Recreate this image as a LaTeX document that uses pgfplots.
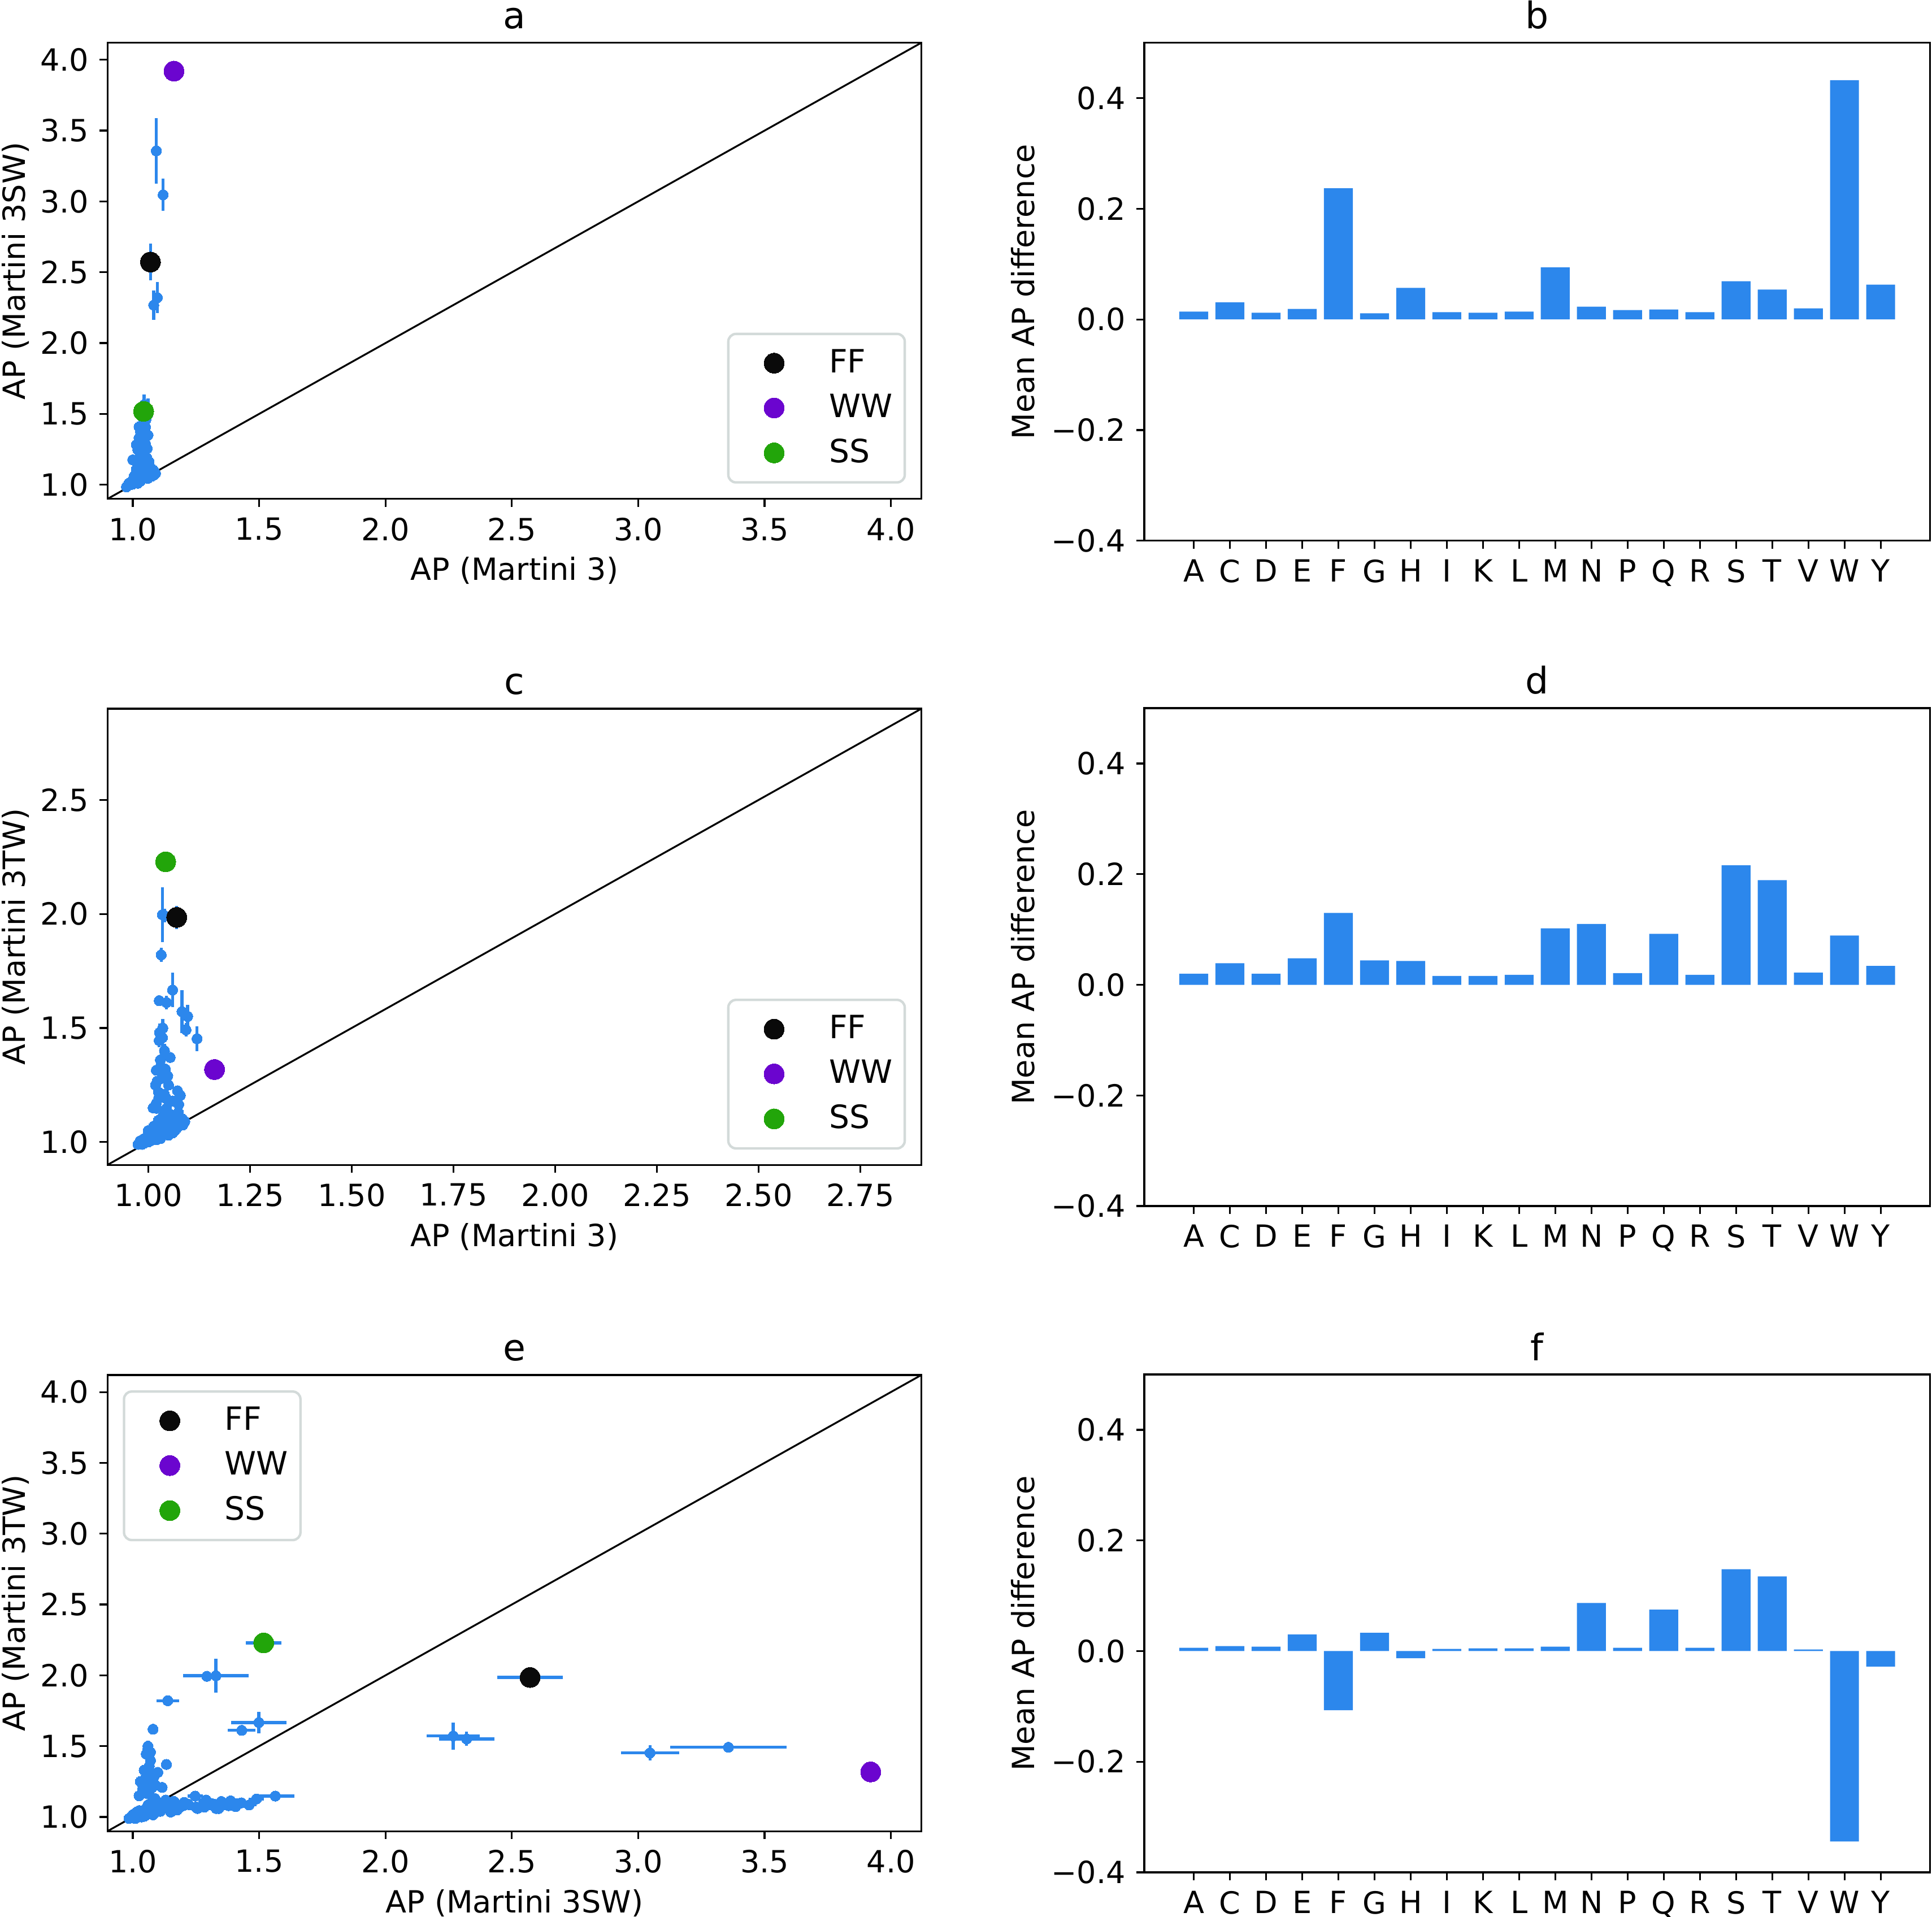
\documentclass[border=0pt]{standalone}
\usepackage{fontspec}
\setmainfont{DejaVu Sans}
\usepackage{pgfplots}
\usepackage{pgfplotstable}
\pgfplotsset{compat=1.18}

\definecolor{apblue}{HTML}{2C87EC}
\definecolor{ffblack}{HTML}{0A0A0A}
\definecolor{wwpurple}{HTML}{6B05CF}
\definecolor{ssgreen}{HTML}{22A50A}
\definecolor{leggray}{HTML}{D3DAD9}

% AP values per dipeptide: Martini 3, Martini 3SW, Martini 3TW, errors of 3SW and 3TW
\pgfplotstableread{
m3    sw    tw    esw   etw
1.163 3.920 1.318 0.030 0.020
1.070 2.572 1.985 0.130 0.050
1.043 1.518 2.229 0.070 0.020
1.093 3.357 1.492 0.230 0.030
1.120 3.047 1.453 0.115 0.055
1.083 2.268 1.572 0.105 0.095
1.097 2.321 1.551 0.110 0.050
1.060 1.499 1.667 0.109 0.075
1.045 1.431 1.612 0.055 0.030
1.035 1.329 1.997 0.130 0.120
1.040 1.293 1.993 0.020 0.030
1.032 1.138 1.821 0.045 0.030
1.027 1.080 1.620 0.020 0.020
1.035 1.070 1.458 0.020 0.070
1.027 1.053 1.445 0.020 0.030
1.054 1.133 1.371 0.020 0.020
1.020 1.099 1.315 0.020 0.020
1.040 1.116 1.209 0.020 0.020
1.026 1.039 1.193 0.010 0.020
1.022 1.048 1.267 0.010 0.020
1.042 1.058 1.320 0.010 0.020
1.072 1.090 1.225 0.010 0.020
1.079 1.075 1.205 0.010 0.020
1.075 1.060 1.165 0.010 0.010
1.045 1.564 1.148 0.075 0.010
1.040 1.489 1.127 0.030 0.010
1.050 1.407 1.074 0.070 0.010
1.038 1.387 1.114 0.040 0.010
1.030 1.276 1.082 0.050 0.010
1.020 1.247 1.148 0.030 0.010
1.048 1.203 1.103 0.030 0.010
1.025 1.408 1.095 0.020 0.010
1.014 1.283 1.070 0.020 0.010
1.043 1.323 1.090 0.050 0.010
1.057 1.256 1.060 0.040 0.010
1.036 1.200 1.080 0.030 0.010
1.000 1.176 1.050 0.020 0.010
1.064 1.163 1.110 0.020 0.010
1.074 1.088 1.130 0.020 0.010
1.014 1.109 1.040 0.010 0.010
1.060 1.350 1.110 0.060 0.010
1.052 1.460 1.085 0.030 0.010
0.975 0.985 0.990 0.010 0.010
0.985 1.000 1.000 0.010 0.010
0.990 1.010 0.995 0.010 0.010
0.995 1.020 1.010 0.010 0.010
1.000 1.005 1.020 0.010 0.010
1.005 1.030 1.015 0.010 0.010
1.010 1.040 1.030 0.010 0.010
1.015 1.025 1.045 0.010 0.010
1.020 1.060 1.025 0.010 0.010
1.025 1.070 1.060 0.010 0.010
1.030 1.045 1.050 0.010 0.010
1.035 1.090 1.070 0.010 0.010
1.040 1.065 1.085 0.010 0.010
1.045 1.100 1.040 0.010 0.010
1.050 1.080 1.060 0.010 0.010
1.055 1.070 1.095 0.010 0.010
1.060 1.110 1.070 0.010 0.010
1.065 1.095 1.050 0.010 0.010
1.070 1.120 1.080 0.010 0.010
1.075 1.100 1.090 0.010 0.010
1.080 1.085 1.100 0.010 0.010
1.085 1.070 1.075 0.010 0.010
1.010 1.015 1.035 0.010 0.010
1.000 1.035 1.000 0.010 0.010
1.020 1.010 1.010 0.010 0.010
1.030 1.025 1.030 0.010 0.010
1.045 1.055 1.045 0.010 0.010
1.015 1.075 1.065 0.010 0.010
1.028 1.150 1.035 0.020 0.010
1.055 1.130 1.120 0.020 0.010
1.005 1.060 1.040 0.010 0.010
1.065 1.140 1.100 0.020 0.010
1.018 1.030 1.250 0.010 0.020
1.030 1.065 1.360 0.010 0.020
1.048 1.085 1.290 0.010 0.020
1.012 1.025 1.150 0.010 0.010
1.060 1.045 1.180 0.010 0.020
1.036 1.060 1.500 0.010 0.040
0.980 0.995 1.005 0.010 0.010
0.985 1.010 0.990 0.010 0.010
0.990 1.000 1.015 0.010 0.010
0.995 1.015 1.000 0.010 0.010
1.000 1.020 1.030 0.010 0.010
1.005 1.045 1.005 0.010 0.010
1.010 1.025 1.020 0.010 0.010
1.015 1.050 1.010 0.010 0.010
1.020 1.035 1.040 0.010 0.010
1.025 1.020 1.025 0.010 0.010
1.030 1.080 1.015 0.010 0.010
1.035 1.050 1.035 0.010 0.010
1.040 1.090 1.055 0.010 0.010
1.045 1.075 1.065 0.010 0.010
1.050 1.060 1.030 0.010 0.010
1.055 1.095 1.050 0.010 0.010
1.060 1.075 1.040 0.010 0.010
1.065 1.060 1.085 0.010 0.010
1.070 1.085 1.060 0.010 0.010
1.075 1.075 1.070 0.010 0.010
1.080 1.105 1.080 0.010 0.010
1.085 1.095 1.100 0.010 0.010
1.090 1.080 1.090 0.010 0.010
1.020 1.180 1.060 0.020 0.010
1.030 1.220 1.090 0.030 0.010
1.040 1.250 1.070 0.030 0.010
1.035 1.300 1.100 0.030 0.010
1.045 1.340 1.060 0.040 0.010
1.030 1.380 1.080 0.030 0.010
1.050 1.290 1.120 0.030 0.010
1.040 1.430 1.100 0.040 0.010
1.055 1.190 1.080 0.020 0.010
1.025 1.330 1.060 0.030 0.010
1.035 1.160 1.110 0.020 0.010
1.025 1.040 1.220 0.010 0.020
1.035 1.055 1.280 0.010 0.020
1.030 1.045 1.330 0.010 0.020
1.040 1.070 1.400 0.010 0.030
1.020 1.050 1.170 0.010 0.010
1.050 1.080 1.250 0.010 0.020
1.045 1.065 1.190 0.010 0.010
1.028 1.060 1.480 0.010 0.040
}\apdata

% mean AP difference per residue (b: 3SW-3, d: 3TW-3, f: 3TW-3SW)
\pgfplotstableread{
x  b      d     f
0  0.014  0.020  0.006
1  0.031  0.039  0.009
2  0.012  0.020  0.008
3  0.019  0.048  0.030
4  0.237  0.130 -0.107
5  0.011  0.044  0.033
6  0.057  0.043 -0.013
7  0.013  0.016  0.004
8  0.012  0.016  0.005
9  0.014  0.018  0.005
10 0.094  0.102  0.008
11 0.023  0.110  0.087
12 0.017  0.021  0.006
13 0.018  0.092  0.075
14 0.013  0.018  0.006
15 0.069  0.216  0.148
16 0.054  0.189  0.135
17 0.020  0.022  0.003
18 0.4325 0.089 -0.344
19 0.063  0.034 -0.028
}\diffdata

\pgfplotsset{
  apbase/.style={
    scale only axis,
    axis line style={line width=0.6pt},
    tick style={line width=0.6pt, black},
    tick align=outside, major tick length=2.6pt,
    tick pos=left,
    label style={font=\fontsize{10}{12}\selectfont},
    tick label style={font=\fontsize{10}{12}\selectfont},
    title style={font=\fontsize{12}{14}\selectfont, yshift=-5pt},
    xlabel style={yshift=1.5pt},
  },
  scat/.style={
    apbase, width=266.4pt, height=149.3pt,
    ylabel shift=-3.2pt,
    legend style={draw=leggray, line width=0.8pt, rounded corners=2.5pt,
      font=\fontsize{10.5}{12.5}\selectfont, inner xsep=2pt, inner ysep=3pt,
      row sep=1.5pt, cells={anchor=west},
      at={(1,0)}, xshift=-5pt, yshift=5pt, anchor=south east},
    legend image code/.code={
      \path[draw=none] (0pt,0pt) -- (29pt,0pt);
      \draw[##1] plot coordinates {(13pt,0pt)};},
  },
  bars/.style={
    apbase, width=257.3pt, height=163pt,
    ylabel shift=-1.5pt,
    xmin=-1.37, xmax=20.37, ymin=-0.4, ymax=0.5,
    xtick={0,...,19},
    xticklabels={A,C,D,E,F,G,H,I,K,L,M,N,P,Q,R,S,T,V,W,Y},
    ytick={-0.4,-0.2,0,0.2,0.4},
    yticklabels={−0.4,−0.2,0.0,0.2,0.4},
    ylabel={Mean AP difference},
  },
  blueerr/.style={only marks, mark=*, mark size=1.7pt, color=apblue,
    mark options={line width=0pt}, forget plot,
    error bars/error mark=none,
    error bars/error bar style={line width=1pt, color=apblue}},
  special/.style={only marks, mark=*, mark size=3.3pt, color=#1,
    mark options={line width=0pt}},
}

\begin{document}
\begin{tikzpicture}
\useasboundingbox (0pt,0pt) rectangle (632.5pt,-627.5pt);

% ---- a ----
\begin{axis}[scat, at={(35.2pt,-14pt)}, anchor=north west,
  title={a},
  xmin=0.9, xmax=4.12, ymin=0.9, ymax=4.12,
  xtick={1,1.5,...,4}, xticklabels={1.0,1.5,2.0,2.5,3.0,3.5,4.0},
  ytick={1,1.5,...,4}, yticklabels={1.0,1.5,2.0,2.5,3.0,3.5,4.0},
  xlabel={AP (Martini 3)}, ylabel={AP (Martini 3SW)}]
\addplot[blueerr, error bars/y dir=both, error bars/y explicit]
  table[x=m3, y=sw, y error=esw] {\apdata};
\addplot[black, line width=0.6pt, forget plot] coordinates {(0.9,0.9) (4.12,4.12)};
\addplot[special=ffblack] coordinates {(1.070,2.572)};
\addplot[special=wwpurple] coordinates {(1.163,3.920)};
\addplot[special=ssgreen] coordinates {(1.043,1.518)};
\legend{FF,WW,SS}
\end{axis}

% ---- c ----
\begin{axis}[scat, at={(35.2pt,-232pt)}, anchor=north west,
  title={c},
  xmin=0.9, xmax=2.9, ymin=0.9, ymax=2.9,
  xtick={1,1.25,...,2.75}, xticklabels={1.00,1.25,1.50,1.75,2.00,2.25,2.50,2.75},
  ytick={1,1.5,2,2.5}, yticklabels={1.0,1.5,2.0,2.5},
  xlabel={AP (Martini 3)}, ylabel={AP (Martini 3TW)}]
\addplot[blueerr, error bars/y dir=both, error bars/y explicit]
  table[x=m3, y=tw, y error=etw] {\apdata};
\addplot[black, line width=0.6pt, forget plot] coordinates {(0.9,0.9) (2.9,2.9)};
\addplot[special=ffblack] coordinates {(1.070,1.985)};
\addplot[special=wwpurple] coordinates {(1.163,1.318)};
\addplot[special=ssgreen] coordinates {(1.043,2.229)};
\legend{FF,WW,SS}
\end{axis}

% ---- e ----
\begin{axis}[scat, at={(35.2pt,-450.1pt)}, anchor=north west,
  title={e},
  xmin=0.9, xmax=4.12, ymin=0.9, ymax=4.12,
  xtick={1,1.5,...,4}, xticklabels={1.0,1.5,2.0,2.5,3.0,3.5,4.0},
  ytick={1,1.5,...,4}, yticklabels={1.0,1.5,2.0,2.5,3.0,3.5,4.0},
  xlabel={AP (Martini 3SW)}, ylabel={AP (Martini 3TW)},
  legend style={at={(0,1)}, xshift=10pt, yshift=-10pt, anchor=north west}]
\addplot[blueerr, error bars/x dir=both, error bars/x explicit,
  error bars/y dir=both, error bars/y explicit]
  table[x=sw, y=tw, x error=esw, y error=etw] {\apdata};
\addplot[black, line width=0.6pt, forget plot] coordinates {(0.9,0.9) (4.12,4.12)};
\addplot[special=ffblack] coordinates {(2.572,1.985)};
\addplot[special=wwpurple] coordinates {(3.920,1.318)};
\addplot[special=ssgreen] coordinates {(1.518,2.229)};
\legend{FF,WW,SS}
\end{axis}

% ---- b, d, f ----
\begin{axis}[bars, at={(374.6pt,-14pt)}, anchor=north west, title={b}]
\addplot[ybar, bar width=0.8, fill=apblue, draw=none] table[x=x, y=b] {\diffdata};
\end{axis}

\begin{axis}[bars, at={(374.6pt,-231.8pt)}, anchor=north west, title={d}]
\addplot[ybar, bar width=0.8, fill=apblue, draw=none] table[x=x, y=d] {\diffdata};
\end{axis}

\begin{axis}[bars, at={(374.6pt,-449.9pt)}, anchor=north west, title={f}]
\addplot[ybar, bar width=0.8, fill=apblue, draw=none] table[x=x, y=f] {\diffdata};
\end{axis}
\end{tikzpicture}
\end{document}
